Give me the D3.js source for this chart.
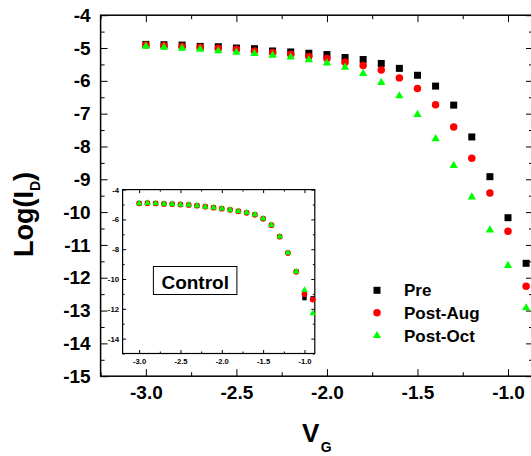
<!DOCTYPE html>
<html>
<head>
<meta charset="utf-8">
<script src="https://cdn.jsdelivr.net/npm/d3@7"></script>
<style>
  html, body { margin: 0; padding: 0; background: #fff; }
  svg { display: block; font-family: "Liberation Sans", Arial, sans-serif; }
  .tick text { font-weight: bold; fill: #000; }
</style>
</head>
<body>
<svg id="chart" width="531" height="456"></svg>
<script>
// Gate voltage sweep (V)
const vg = [-3.0, -2.9, -2.8, -2.7, -2.6, -2.5, -2.4, -2.3, -2.2, -2.1, -2.0,
            -1.9, -1.8, -1.7, -1.6, -1.5, -1.4, -1.3, -1.2, -1.1, -1.0, -0.9];

// Log drain current, exposed device
const pre     = [-4.89, -4.90, -4.91, -4.95, -4.96, -5.00, -5.02, -5.09, -5.12, -5.16, -5.20,
                 -5.29, -5.35, -5.47, -5.62, -5.83, -6.16, -6.74, -7.71, -8.92, -10.17, -11.56];
const postAug = [-4.91, -4.93, -4.95, -4.98, -5.01, -5.04, -5.09, -5.14, -5.19, -5.26, -5.32,
                 -5.43, -5.53, -5.67, -5.91, -6.23, -6.73, -7.41, -8.36, -9.42, -10.58, -12.26];
const postOct = [-4.95, -4.98, -5.01, -5.04, -5.09, -5.13, -5.17, -5.22, -5.28, -5.36, -5.46,
                 -5.59, -5.78, -6.05, -6.46, -7.03, -7.77, -8.58, -9.54, -10.55, -11.63, -12.92];

// Log drain current, control device (inset)
const ctrlPre = [-4.92, -4.90, -4.93, -4.96, -4.97, -5.00, -5.03, -5.08, -5.15, -5.21, -5.28,
                 -5.36, -5.45, -5.55, -5.68, -5.95, -6.38, -7.15, -8.25, -9.50, -11.28, -11.30];
const ctrlAug = [-4.92, -4.91, -4.93, -4.96, -4.97, -5.00, -5.03, -5.08, -5.15, -5.21, -5.28,
                 -5.36, -5.45, -5.56, -5.69, -5.96, -6.39, -7.16, -8.26, -9.52, -11.02, -11.38];
const ctrlOct = [-4.92, -4.90, -4.93, -4.96, -4.97, -5.00, -5.03, -5.08, -5.15, -5.21, -5.28,
                 -5.36, -5.45, -5.55, -5.68, -5.95, -6.38, -7.15, -8.25, -9.50, -10.75, -12.30];

// Tick values
const xMajor = [-3.0, -2.5, -2.0, -1.5, -1.0];
const xMinor = [-3.25, -2.75, -2.25, -1.75, -1.25];
const yMajor = [-4, -5, -6, -7, -8, -9, -10, -11, -12, -13, -14, -15];
const yMinor = [-4.5, -5.5, -6.5, -7.5, -8.5, -9.5, -10.5, -11.5, -12.5, -13.5, -14.5];
const inXMajor = [-3.0, -2.5, -2.0, -1.5, -1.0];
const inXMinor = [-2.75, -2.25, -1.75, -1.25];
const inYMajor = [-4, -6, -8, -10, -12, -14];
const inYMinor = [-5, -7, -9, -11, -13, -15];

const seriesNames = ["Pre", "Post-Aug", "Post-Oct"];
const seriesColors = ["#000000", "#ff0000", "#00ff00"];
const seriesShapes = [d3.symbolSquare, d3.symbolCircle, d3.symbolTriangle];

const svg = d3.select("#chart");
const fmt1 = d => d.toFixed(1).replace("\u2212", "-");
const fmt0 = d => String(d).replace("\u2212", "-");

// ---- main panel ----
const P = { left: 100.6, right: 533, top: 15.2, bottom: 376.2 };
const x = d3.scaleLinear().domain([-3.25, -0.862]).range([P.left, P.right]);
const y = d3.scaleLinear().domain([-15, -4]).range([P.bottom, P.top]);

function addAxis(g, axis, fontSize) {
  g.call(axis);
  g.select(".domain").remove();
  g.selectAll(".tick line").attr("stroke", "#000").attr("stroke-width", 1.3);
  g.selectAll(".tick text").attr("font-size", fontSize).attr("font-family", null);
}

// bottom
addAxis(svg.append("g").attr("transform", `translate(0,${P.bottom})`),
  d3.axisBottom(x).tickValues(xMajor).tickSize(-7).tickPadding(9.6).tickFormat(fmt1), 19);
addAxis(svg.append("g").attr("transform", `translate(0,${P.bottom})`),
  d3.axisBottom(x).tickValues(xMinor).tickSize(-4).tickFormat(""), 19);
// top
addAxis(svg.append("g").attr("transform", `translate(0,${P.top})`),
  d3.axisTop(x).tickValues(xMajor).tickSize(-7).tickFormat(""), 19);
addAxis(svg.append("g").attr("transform", `translate(0,${P.top})`),
  d3.axisTop(x).tickValues(xMinor).tickSize(-4).tickFormat(""), 19);
// left
addAxis(svg.append("g").attr("transform", `translate(${P.left},0)`),
  d3.axisLeft(y).tickValues(yMajor).tickSize(-7).tickPadding(10).tickFormat(fmt0), 19);
addAxis(svg.append("g").attr("transform", `translate(${P.left},0)`),
  d3.axisLeft(y).tickValues(yMinor).tickSize(-4).tickFormat(""), 19);
// right
addAxis(svg.append("g").attr("transform", `translate(${P.right},0)`),
  d3.axisRight(y).tickValues(yMajor).tickSize(-7).tickFormat(""), 19);
addAxis(svg.append("g").attr("transform", `translate(${P.right},0)`),
  d3.axisRight(y).tickValues(yMinor).tickSize(-4).tickFormat(""), 19);

svg.append("rect")
  .attr("x", P.left).attr("y", P.top)
  .attr("width", P.right - P.left).attr("height", P.bottom - P.top)
  .attr("fill", "none").attr("stroke", "#000").attr("stroke-width", 1.5);

// axis titles
const xt = svg.append("text").attr("x", 302).attr("y", 441.7)
  .attr("font-weight", "bold").attr("font-size", 26);
xt.append("tspan").text("V");
xt.append("tspan").attr("font-size", 14).attr("dy", 10).attr("dx", 1.5).text("G");

const yt = svg.append("text").attr("transform", "translate(33.3,257) rotate(-90)")
  .attr("font-weight", "bold").attr("font-size", 27);
yt.append("tspan").text("Log(I");
yt.append("tspan").attr("font-size", 14).attr("dy", 7).text("D");
yt.append("tspan").attr("dy", -7).text(")");

// main data
const mainSeries = [pre, postAug, postOct];
const mainSizes = [49, 44, 30];
mainSeries.forEach((vals, i) => {
  svg.append("g").selectAll("path")
    .data(vg.map((v, j) => [v, vals[j]]))
    .join("path")
    .attr("transform", d => `translate(${x(d[0])},${y(d[1])})`)
    .attr("d", d3.symbol().type(seriesShapes[i]).size(mainSizes[i]))
    .attr("fill", seriesColors[i]);
});

// legend
const legendY = [290.3, 312.7, 335.7];
seriesNames.forEach((name, i) => {
  svg.append("path")
    .attr("transform", `translate(377,${legendY[i]})`)
    .attr("d", d3.symbol().type(seriesShapes[i]).size(mainSizes[i]))
    .attr("fill", seriesColors[i]);
  svg.append("text").attr("x", 404).attr("y", legendY[i] + 6)
    .attr("font-weight", "bold").attr("font-size", 17).text(name);
});

// ---- inset: control device ----
const I = { left: 122.6, right: 314.8, top: 189.6, bottom: 353.5 };
const ix = d3.scaleLinear().domain([-3.2, -0.875]).range([I.left, I.right]);
const iy = d3.scaleLinear().domain([-15, -4]).range([I.bottom, I.top]);

svg.append("rect")
  .attr("x", I.left).attr("y", I.top)
  .attr("width", I.right - I.left).attr("height", I.bottom - I.top)
  .attr("fill", "#fff");

addAxis(svg.append("g").attr("transform", `translate(0,${I.bottom})`),
  d3.axisBottom(ix).tickValues(inXMajor).tickSize(-3.5).tickPadding(5.5).tickFormat(fmt1), 7.6);
addAxis(svg.append("g").attr("transform", `translate(0,${I.bottom})`),
  d3.axisBottom(ix).tickValues(inXMinor).tickSize(-2).tickFormat(""), 7.6);
addAxis(svg.append("g").attr("transform", `translate(0,${I.top})`),
  d3.axisTop(ix).tickValues(inXMajor).tickSize(-3.5).tickFormat(""), 7.6);
addAxis(svg.append("g").attr("transform", `translate(0,${I.top})`),
  d3.axisTop(ix).tickValues(inXMinor).tickSize(-2).tickFormat(""), 7.6);
addAxis(svg.append("g").attr("transform", `translate(${I.left},0)`),
  d3.axisLeft(iy).tickValues(inYMajor).tickSize(-3.5).tickPadding(3.5).tickFormat(fmt0), 7.8);
addAxis(svg.append("g").attr("transform", `translate(${I.left},0)`),
  d3.axisLeft(iy).tickValues(inYMinor).tickSize(-2).tickFormat(""), 7.8);
addAxis(svg.append("g").attr("transform", `translate(${I.right},0)`),
  d3.axisRight(iy).tickValues(inYMajor).tickSize(-3.5).tickFormat(""), 7.8);
addAxis(svg.append("g").attr("transform", `translate(${I.right},0)`),
  d3.axisRight(iy).tickValues(inYMinor).tickSize(-2).tickFormat(""), 7.8);
svg.selectAll("g .tick line").attr("stroke-width", 1);

svg.append("rect")
  .attr("x", I.left).attr("y", I.top)
  .attr("width", I.right - I.left).attr("height", I.bottom - I.top)
  .attr("fill", "none").attr("stroke", "#000").attr("stroke-width", 1.2);

const ctrlSeries = [ctrlPre, ctrlAug, ctrlOct];
const ctrlSizes = [20, 26, 19];
ctrlSeries.forEach((vals, i) => {
  svg.append("g").selectAll("path")
    .data(vg.map((v, j) => [v, vals[j]]))
    .join("path")
    .attr("transform", d => `translate(${ix(d[0])},${iy(d[1])})`)
    .attr("d", d3.symbol().type(seriesShapes[i]).size(ctrlSizes[i]))
    .attr("fill", seriesColors[i]);
});

svg.append("rect").attr("x", 153.4).attr("y", 266.5).attr("width", 83.5).attr("height", 28)
  .attr("fill", "#fff").attr("stroke", "#000").attr("stroke-width", 1);
svg.append("text").attr("x", 195.2).attr("y", 288.5).attr("text-anchor", "middle")
  .attr("font-weight", "bold").attr("font-size", 19).text("Control");
</script>
</body>
</html>
